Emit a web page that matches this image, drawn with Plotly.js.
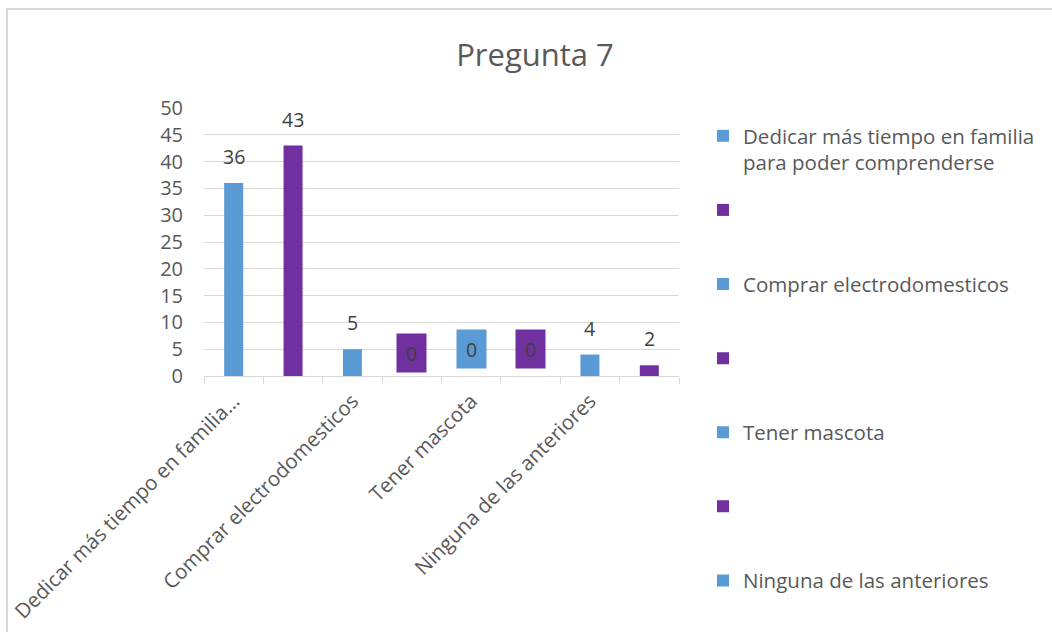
<!DOCTYPE html>
<html>
<head>
<meta charset="utf-8">
<script src="https://cdn.plot.ly/plotly-3.0.1.min.js"></script>
<style>html,body{margin:0;padding:0;background:#fff;}#chart{width:1052px;height:632px;}</style>
</head>
<body>
<div id="chart"></div>
<script>
// ---- data ----
const categories = [
  "Dedicar más tiempo en familia para poder comprenderse", "",
  "Comprar electrodomesticos", "",
  "Tener mascota", "",
  "Ninguna de las anteriores", ""
];
const tickLabels = ["Dedicar más tiempo en familia...", "Comprar electrodomesticos", "Tener mascota", "Ninguna de las anteriores"];
const legendNames = ["Dedicar más tiempo en familia<br>para poder comprenderse", "", "Comprar electrodomesticos", "", "Tener mascota", "", "Ninguna de las anteriores", ""];
const values = [36, 43, 5, 0, 0, 0, 4, 2];
const labels = ["36", "43", "5", "0", "0", "0", "4", "2"];

// ---- style ----
const BLUE = "#5b9bd5", PURPLE = "#7030a0";
const barColors = values.map((v, i) => i % 2 === 0 ? BLUE : PURPLE);
const FONT = "Open Sans, DejaVu Sans, sans-serif";
const TXT = "#595959";
const LBL = "#404040";
const GRID = "#d9d9d9";
// plot-area geometry in px (for placing legends / frame)
const PL = 204, PR = 679, PT = 108, PB = 376;
const pxX = px => (px - PL) / (PR - PL);
const pxY = px => (PB - px) / (PB - PT);
// vertical centre (in axis units) of the filled label boxes drawn for zero values
const zeroBoxCentre = [null, null, null, 4.3, 5.05, 5.05, null, null];
// legend entries: top of each entry box in px
const LEG_LEFT = 703, LEG_FIRST = 136, LEG_STEP = 74.1, LEG_OFF = 20;

const xIdx = values.map((v, i) => i);
const legendId = i => i === 0 ? "legend" : "legend" + (i + 1);

const traces = values.map((v, i) => ({
  type: "bar",
  x: [xIdx[i]],
  y: [v],
  name: legendNames[i],
  legend: legendId(i),
  showlegend: i < 7,
  width: 0.32,
  marker: {color: barColors[i], line: {width: 0}},
  hoverinfo: "name+y"
}));

const annotations = [];
values.forEach((v, i) => {
  if (v === 0) {
    annotations.push({
      x: xIdx[i], y: zeroBoxCentre[i], xref: "x", yref: "y",
      text: labels[i], showarrow: false,
      width: 29, height: 38, bgcolor: barColors[i], borderpad: 0,
      valign: "middle", yanchor: "middle", xanchor: "center",
      font: {family: FONT, size: 19.5, color: LBL}
    });
  } else {
    annotations.push({
      x: xIdx[i], y: v, xref: "x", yref: "y",
      text: labels[i], showarrow: false,
      yanchor: "bottom", yshift: 11,
      font: {family: FONT, size: 19.5, color: LBL}
    });
  }
});

const layout = {
  width: 1052, height: 632,
  margin: {l: PL, r: 1052 - PR, t: PT, b: 632 - PB, pad: 0},
  paper_bgcolor: "#fff", plot_bgcolor: "#fff",
  font: {family: FONT, color: TXT},
  title: {text: "Pregunta 7", x: 535 / 1052, xref: "container", xanchor: "center",
          y: 1 - 55 / 632, yref: "container", yanchor: "middle",
          font: {family: FONT, size: 31, color: TXT}},
  barmode: "overlay",
  showlegend: true,
  xaxis: {
    range: [-0.5, 7.5], fixedrange: true,
    tickmode: "array", tickvals: [0, 2, 4, 6], ticktext: tickLabels,
    tickangle: -45, ticks: "", showgrid: false, zeroline: false,
    showline: true, linecolor: GRID, linewidth: 1,
    ticklabelstandoff: 4,
    tickfont: {family: FONT, size: 20.5, color: TXT},
    minor: {tick0: -0.5, dtick: 1, ticks: "outside", ticklen: 7, tickcolor: GRID, tickwidth: 1, showgrid: false}
  },
  yaxis: {
    range: [0, 50], dtick: 5, fixedrange: true,
    showgrid: true, gridcolor: GRID, gridwidth: 1, zeroline: false,
    showline: false, ticks: "", ticklabelstandoff: 20,
    tickfont: {family: FONT, size: 20, color: TXT}
  },
  annotations: annotations,
  shapes: [{
    type: "rect", xref: "paper", yref: "paper",
    x0: pxX(7), x1: pxX(1200), y0: pxY(800), y1: pxY(9),
    line: {color: GRID, width: 2}, fillcolor: "rgba(0,0,0,0)", layer: "below"
  }]
};

for (let i = 0; i < 7; i++) {
  layout[legendId(i)] = {
    x: pxX(LEG_LEFT), xanchor: "left",
    y: pxY(LEG_FIRST + i * LEG_STEP - LEG_OFF), yanchor: "top",
    font: {family: FONT, size: 20.5, color: TXT},
    valign: "top", bgcolor: "rgba(0,0,0,0)", borderwidth: 0
  };
}

Plotly.newPlot("chart", traces, layout, {displayModeBar: false, staticPlot: true});
</script>
</body>
</html>
